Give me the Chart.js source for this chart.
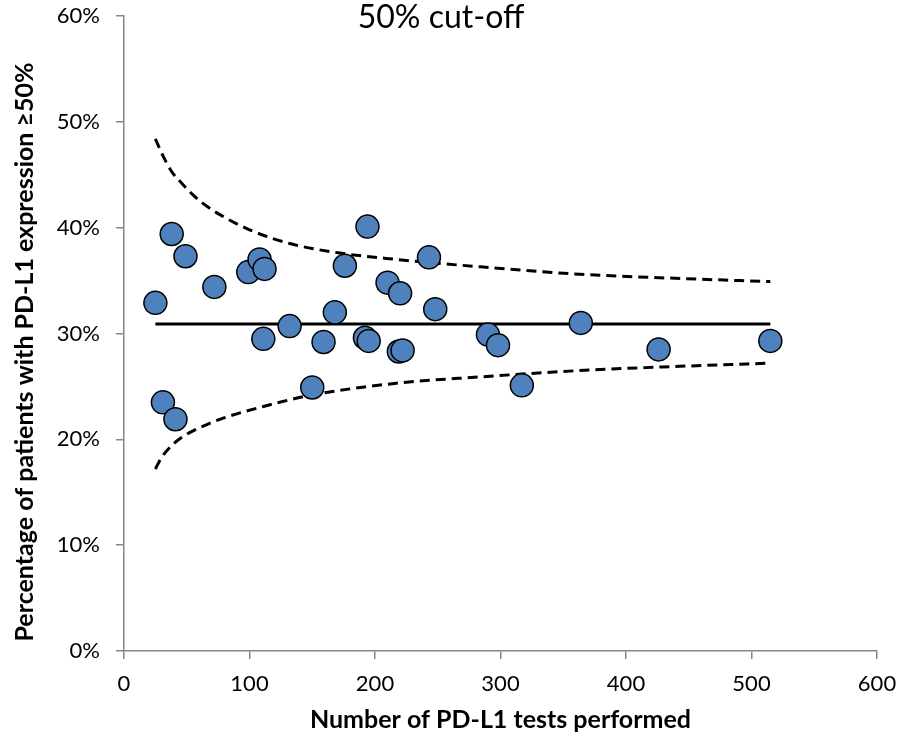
<!DOCTYPE html>
<html>
<head>
<meta charset="utf-8">
<script src="https://cdn.jsdelivr.net/npm/chart.js@4.4.0/dist/chart.umd.min.js"></script>
<style>
  html, body { margin: 0; padding: 0; background: #fff; }
  #wrap { width: 898px; height: 740px; }
</style>
</head>
<body>
<div id="wrap"><canvas id="myChart" width="898" height="740"></canvas></div>
<script>
// centres: number of tests vs % with PD-L1 >= 50%
var testsN = [25, 31, 38, 41, 49, 72, 99, 108, 111, 112, 132, 150, 159, 168, 176, 192, 194, 195, 210, 219, 220, 222, 243, 248, 290, 298, 317, 364, 426, 515];
var pctHigh = [32.9, 23.5, 39.4, 21.9, 37.3, 34.4, 35.8, 37.0, 29.5, 36.1, 30.7, 24.9, 29.2, 32.0, 36.4, 29.6, 40.1, 29.3, 34.8, 28.3, 33.8, 28.4, 37.2, 32.3, 29.9, 28.9, 25.1, 31.0, 28.5, 29.3];

// overall mean line
var meanX = [25, 515];
var meanY = [30.9, 30.9];

// control limits
var upperX = [25, 31, 38, 46, 55, 64, 74, 100, 132, 172, 217, 284, 363, 443, 515];
var upperY = [48.4, 46.8, 45.3, 44.2, 43.1, 42.2, 41.4, 39.8, 38.5, 37.6, 37.0, 36.3, 35.6, 35.2, 34.9];
var lowerX = [25, 30, 37, 45, 55, 66, 79, 111, 146, 217, 284, 363, 443, 515];
var lowerY = [17.2, 18.3, 19.3, 20.1, 20.8, 21.4, 22.0, 23.1, 24.1, 25.3, 25.9, 26.5, 26.9, 27.2];

var yTicks = [0, 10, 20, 30, 40, 50, 60];

function pts(xs, ys) {
    return xs.map(function (x, i) { return { x: x, y: ys[i] }; });
}

// chart title sits over the plot, y title is centred a bit low as in the original
var textPlugin = {
    id: 'extraText',
    afterDraw: function (chart) {
        var c = chart.ctx;
        c.save();
        c.fillStyle = '#000';
        c.textAlign = 'center';
        c.font = '32px Lato, "Noto Sans", sans-serif';
        c.textBaseline = 'alphabetic';
        c.fillText('50% cut-off', 441, 28);
        c.translate(33, 352);
        c.rotate(-Math.PI / 2);
        c.font = 'bold 25px Lato, "Noto Sans", sans-serif';
        c.fillText('Percentage of patients with PD-L1 expression \u226550%', 0, 0);
        c.restore();
    }
};

var lineStyle = {
    showLine: true,
    borderColor: '#000',
    borderWidth: 3,
    pointRadius: 0,
    fill: false
};

var ctx = document.getElementById('myChart').getContext('2d');
var chart = new Chart(ctx, {
    type: 'scatter',
    data: {
        datasets: [{
            label: 'Centres',
            data: pts(testsN, pctHigh),
            backgroundColor: '#4F81BD',
            borderColor: '#000',
            borderWidth: 1.5,
            pointRadius: 11.5,
            pointHoverRadius: 11.5
        },
        Object.assign({ label: 'Mean', data: pts(meanX, meanY) }, lineStyle),
        Object.assign({ label: 'Upper limit', data: pts(upperX, upperY), borderDash: [10, 6], cubicInterpolationMode: 'monotone' }, lineStyle),
        Object.assign({ label: 'Lower limit', data: pts(lowerX, lowerY), borderDash: [10, 6], cubicInterpolationMode: 'monotone' }, lineStyle)
        ]
    },
    options: {
        responsive: false,
        animation: false,
        events: [],
        layout: { padding: { left: 0, right: 21, top: 16, bottom: 0 } },
        plugins: {
            legend: { display: false },
            tooltip: { enabled: false }
        },
        scales: {
            x: {
                type: 'linear',
                min: 0,
                max: 600,
                ticks: {
                    stepSize: 100,
                    color: '#000',
                    padding: 12,
                    font: { family: 'Lato', size: 22 }
                },
                grid: { drawOnChartArea: false, drawTicks: true, tickLength: 8, color: '#868686', lineWidth: 1.5 },
                border: { color: '#868686', width: 1.5 },
                title: {
                    display: true,
                    text: 'Number of PD-L1 tests performed',
                    color: '#000',
                    font: { family: 'Lato', size: 25, weight: 'bold' },
                    padding: { top: 0, bottom: 5 }
                },
                afterFit: function (scale) {
                    scale.height = 89;
                    scale.paddingLeft = 0;
                    scale.paddingRight = 0;
                }
            },
            y: {
                type: 'linear',
                min: 0,
                max: 60,
                afterBuildTicks: function (scale) {
                    scale.ticks = yTicks.map(function (v) { return { value: v }; });
                },
                ticks: {
                    color: '#000',
                    padding: 16,
                    font: { family: 'Lato', size: 22 },
                    callback: function (v) { return v + '%'; }
                },
                grid: { drawOnChartArea: false, drawTicks: true, tickLength: 8, color: '#868686', lineWidth: 1.5 },
                border: { color: '#868686', width: 1.5 },
                afterFit: function (scale) {
                    scale.width = 124;
                    scale.paddingTop = 0;
                    scale.paddingBottom = 0;
                }
            }
        }
    },
    plugins: [textPlugin]
});
</script>
</body>
</html>
